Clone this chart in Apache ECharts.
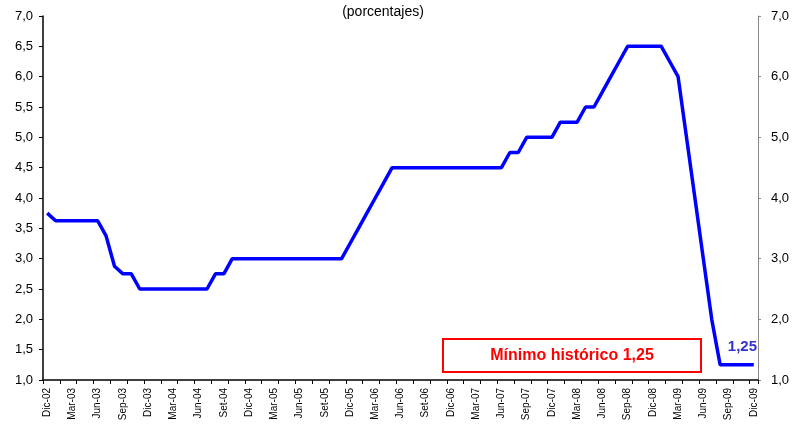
<!DOCTYPE html>
<html>
<head>
<meta charset="utf-8">
<script src="https://cdn.jsdelivr.net/npm/echarts@6/dist/echarts.min.js"></script>
<style>
  html, body { margin: 0; padding: 0; background: #fff; }
  #chart { width: 793px; height: 428px; }
</style>
</head>
<body>
<div id="chart"></div>
<script>
// meses Dic-02 .. Dic-09
const categories = [
  'Dic-02',
  'Ene-03', 'Feb-03', 'Mar-03', 'Abr-03', 'May-03', 'Jun-03', 'Jul-03', 'Ago-03', 'Sep-03', 'Oct-03', 'Nov-03', 'Dic-03',
  'Ene-04', 'Feb-04', 'Mar-04', 'Abr-04', 'May-04', 'Jun-04', 'Jul-04', 'Ago-04', 'Set-04', 'Oct-04', 'Nov-04', 'Dic-04',
  'Ene-05', 'Feb-05', 'Mar-05', 'Abr-05', 'May-05', 'Jun-05', 'Jul-05', 'Ago-05', 'Set-05', 'Oct-05', 'Nov-05', 'Dic-05',
  'Ene-06', 'Feb-06', 'Mar-06', 'Abr-06', 'May-06', 'Jun-06', 'Jul-06', 'Ago-06', 'Set-06', 'Oct-06', 'Nov-06', 'Dic-06',
  'Ene-07', 'Feb-07', 'Mar-07', 'Abr-07', 'May-07', 'Jun-07', 'Jul-07', 'Ago-07', 'Sep-07', 'Oct-07', 'Nov-07', 'Dic-07',
  'Ene-08', 'Feb-08', 'Mar-08', 'Abr-08', 'May-08', 'Jun-08', 'Jul-08', 'Ago-08', 'Sep-08', 'Oct-08', 'Nov-08', 'Dic-08',
  'Ene-09', 'Feb-09', 'Mar-09', 'Abr-09', 'May-09', 'Jun-09', 'Jul-09', 'Ago-09', 'Sep-09', 'Oct-09', 'Nov-09', 'Dic-09'
];

// tasa de referencia (%)
const tasa = [
  3.75,
  3.625, 3.625, 3.625, 3.625, 3.625, 3.625, 3.375, 2.875, 2.75, 2.75, 2.5, 2.5,
  2.5, 2.5, 2.5, 2.5, 2.5, 2.5, 2.5, 2.75, 2.75, 3.0, 3.0, 3.0,
  3.0, 3.0, 3.0, 3.0, 3.0, 3.0, 3.0, 3.0, 3.0, 3.0, 3.0, 3.25,
  3.5, 3.75, 4.0, 4.25, 4.5, 4.5, 4.5, 4.5, 4.5, 4.5, 4.5, 4.5,
  4.5, 4.5, 4.5, 4.5, 4.5, 4.5, 4.75, 4.75, 5.0, 5.0, 5.0, 5.0,
  5.25, 5.25, 5.25, 5.5, 5.5, 5.75, 6.0, 6.25, 6.5, 6.5, 6.5, 6.5,
  6.5, 6.25, 6.0, 5.0, 4.0, 3.0, 2.0, 1.25, 1.25, 1.25, 1.25, 1.25
];

const labelCat = 'Nov-09';       // donde va la etiqueta "1,25"
const titulo = '(porcentajes)';
const nota = 'Mínimo histórico 1,25';

const fmt = v => v.toFixed(1).replace('.', ',');
const font = 'Liberation Sans, Arial, sans-serif';

const myChart = echarts.init(document.getElementById('chart'), null, {renderer: 'canvas'});

const option = {
  animation: false,
  backgroundColor: '#fff',
  title: {
    text: titulo, left: 378, top: 0, textAlign: 'center',
    textStyle: {fontSize: 14, fontWeight: 'normal', color: '#000', fontFamily: font}
  },
  grid: {left: 43, right: 35, top: 16, bottom: 48, containLabel: false},
  xAxis: {
    type: 'category',
    data: categories,
    boundaryGap: true,
    axisLine: {lineStyle: {color: '#000', width: 1.5}},
    axisTick: {show: true, interval: 1, length: 4, lineStyle: {color: '#000'}},
    axisLabel: {
      interval: 2, rotate: 90, margin: 8,
      fontSize: 10, color: '#000', fontFamily: font
    },
    splitLine: {show: false}
  },
  yAxis: [
    {
      type: 'value', min: 1, max: 7, interval: 0.5, position: 'left',
      axisLine: {show: true, lineStyle: {color: '#000', width: 1.5}},
      axisTick: {show: true, length: 4, lineStyle: {color: '#000'}},
      axisLabel: {formatter: fmt, fontSize: 13, color: '#000', margin: 10, fontFamily: font},
      splitLine: {show: false}
    },
    {
      type: 'value', min: 1, max: 7, interval: 1, position: 'right',
      axisLine: {show: true, lineStyle: {color: '#888'}},
      axisTick: {show: true, length: 3, lineStyle: {color: '#888'}},
      axisLabel: {formatter: fmt, fontSize: 13, color: '#000', margin: 13, fontFamily: font},
      splitLine: {show: false}
    }
  ],
  series: [{
    type: 'line',
    data: tasa,
    yAxisIndex: 0,
    symbol: 'none',
    lineStyle: {color: '#0000FF', width: 3.5},
    itemStyle: {color: '#0000FF'},
    markPoint: {
      symbol: 'circle', symbolSize: 1,
      itemStyle: {color: 'rgba(0,0,0,0)'},
      label: {
        show: true, position: 'top', distance: 10, offset: [-3, 0],
        formatter: p => String(p.value).replace('.', ','),
        color: '#3333CC', fontWeight: 'bold', fontSize: 15, fontFamily: font
      },
      data: [{coord: [labelCat, tasa[categories.indexOf(labelCat)]], value: tasa[categories.indexOf(labelCat)]}]
    }
  }],
  graphic: [{
    type: 'group',
    left: 442, top: 338,
    children: [
      {type: 'rect', shape: {x: 0, y: 0, width: 258, height: 33},
       style: {fill: '#fff', stroke: '#FF0000', lineWidth: 2}},
      {type: 'text', x: 129, y: 17,
       style: {text: nota, fill: '#FF0000', font: 'bold 16px ' + font,
               textAlign: 'center', textVerticalAlign: 'middle'}}
    ]
  }]
};

myChart.setOption(option);
window.addEventListener('resize', myChart.resize, false);
</script>
</body>
</html>
